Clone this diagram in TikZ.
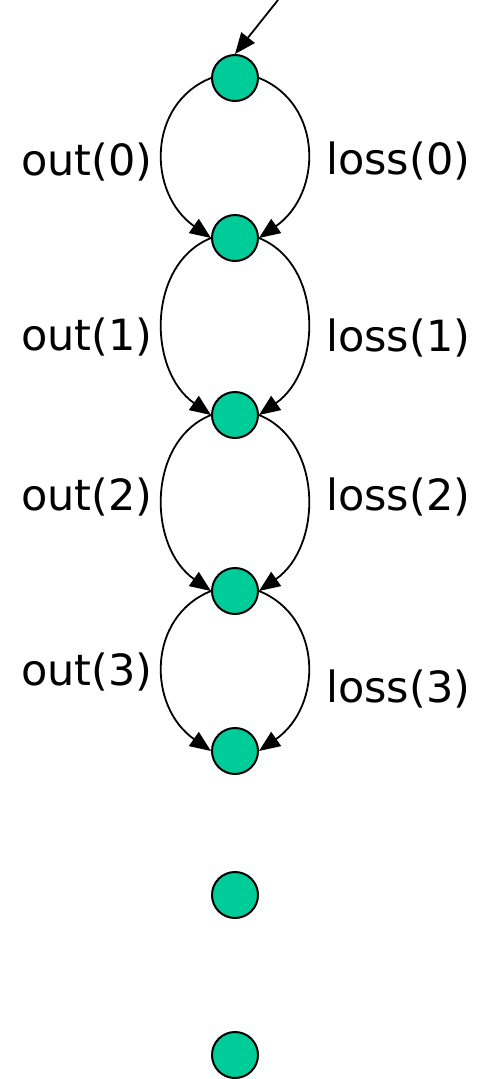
\documentclass[tikz,border=0pt]{standalone}
\usepackage{fontspec}
\setmainfont{DejaVu Sans}
\usetikzlibrary{arrows.meta,positioning}

\definecolor{statefill}{RGB}{0,204,153}

\tikzset{
	state/.style={
		circle,
		draw,
		line width=2pt,
		fill=statefill,
		minimum size=46pt,
		inner sep=0pt
	},
	trans/.style={
		line width=1.8pt,
		-{Triangle[length=21pt,width=17pt]}
	},
	lbl/.style={
		font=\fontsize{43}{50}\selectfont,
		inner sep=0pt,
		anchor=base west
	}
}

\begin{document}
\begin{tikzpicture}[x=1pt,y=1pt]
		
		\useasboundingbox (0,0) rectangle (478,-1079);
		
		% chain of states
		\node[state] (s0) at (235,-78) {};
		\node[state] (s1) at (235,-238) {};
		\node[state] (s2) at (235,-415) {};
		\node[state] (s3) at (235,-591) {};
		\node[state] (s4) at (235,-751) {};
		\node[state] (s5) at (235,-895) {};
		\node[state] (s6) at (235,-1055) {};
		
		% entry arrow
		\coordinate (start) at (278,0);
		\draw[trans] (start) -- (s0.north);
		
		% out / loss transitions
		\foreach \i/\j in {0/1,1/2,2/3,3/4}{
			\draw[trans] (s\i.west) .. controls +(202:69) and +(145:78) .. (s\j.west);
			\draw[trans] (s\i.east) .. controls +(-22:69) and +(35:78) .. (s\j.east);
		}
		
		\node[lbl] (out0) at (21,-175) {out(0)};
		\node[lbl] (out1) at (21,-350) {out(1)};
		\node[lbl] (out2) at (21,-510) {out(2)};
		\node[lbl] (out3) at (21,-685) {out(3)};
		
		\node[lbl] (loss0) at (326,-174) {loss(0)};
		\node[lbl] (loss1) at (326,-351) {loss(1)};
		\node[lbl] (loss2) at (326,-510) {loss(2)};
		\node[lbl] (loss3) at (326,-702) {loss(3)};
		
	\end{tikzpicture}
\end{document}
